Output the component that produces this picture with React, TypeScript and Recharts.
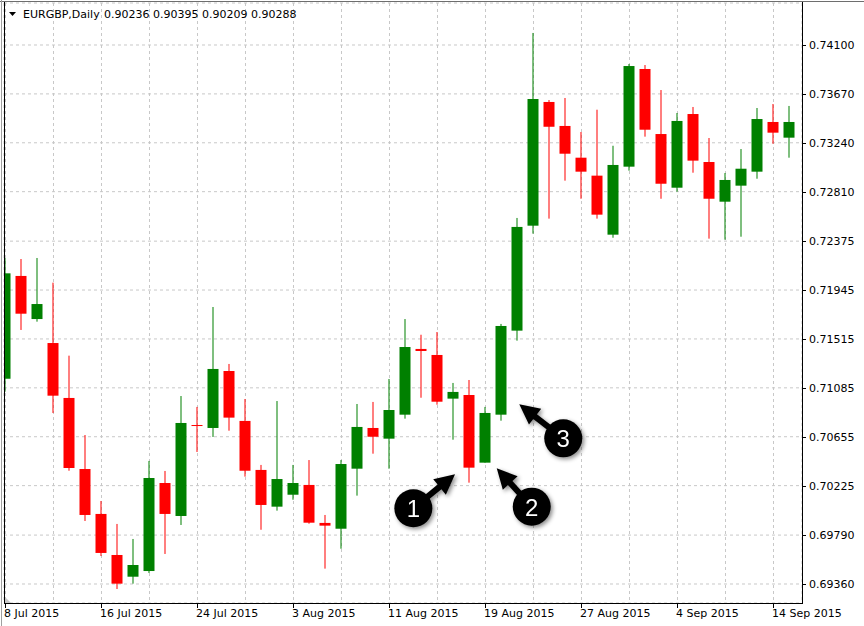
import React from 'react';
import { Bar, CartesianGrid, ComposedChart, ReferenceDot, XAxis, YAxis } from 'recharts';

// EURGBP daily candles, 8 Jul 2015 .. 15 Sep 2015
const dates = [
  '8 Jul 2015', '9 Jul 2015', '10 Jul 2015', '13 Jul 2015', '14 Jul 2015', '15 Jul 2015',
  '16 Jul 2015', '17 Jul 2015', '20 Jul 2015', '21 Jul 2015', '22 Jul 2015', '23 Jul 2015',
  '24 Jul 2015', '27 Jul 2015', '28 Jul 2015', '29 Jul 2015', '30 Jul 2015', '31 Jul 2015',
  '3 Aug 2015', '4 Aug 2015', '5 Aug 2015', '6 Aug 2015', '7 Aug 2015', '10 Aug 2015',
  '11 Aug 2015', '12 Aug 2015', '13 Aug 2015', '14 Aug 2015', '17 Aug 2015', '18 Aug 2015',
  '19 Aug 2015', '20 Aug 2015', '21 Aug 2015', '24 Aug 2015', '25 Aug 2015', '26 Aug 2015',
  '27 Aug 2015', '28 Aug 2015', '31 Aug 2015', '1 Sep 2015', '2 Sep 2015', '3 Sep 2015',
  '4 Sep 2015', '7 Sep 2015', '8 Sep 2015', '9 Sep 2015', '10 Sep 2015', '11 Sep 2015',
  '14 Sep 2015', '15 Sep 2015',
];

const open = [
  0.71165, 0.72069, 0.7169, 0.71479, 0.70996, 0.70371, 0.69976, 0.69615, 0.69424, 0.69474,
  0.70248, 0.69958, 0.70758, 0.70732, 0.71233, 0.70794, 0.70363, 0.7004, 0.70145, 0.70231,
  0.69897, 0.69846, 0.70374, 0.70732, 0.70638, 0.70849, 0.71427, 0.71374, 0.7099, 0.71022,
  0.70427, 0.70849, 0.71588, 0.72511, 0.73599, 0.73388, 0.73109, 0.72951, 0.72432, 0.7303,
  0.73889, 0.73317, 0.72845, 0.73493, 0.73071, 0.72722, 0.72863, 0.72986, 0.73423, 0.73285,
];
const high = [
  0.72227, 0.72218, 0.72227, 0.7201, 0.71368, 0.7067, 0.7009, 0.69888, 0.69756, 0.70442,
  0.70354, 0.71013, 0.70917, 0.71796, 0.71295, 0.70987, 0.70407, 0.70969, 0.70407, 0.7045,
  0.69967, 0.7045, 0.70943, 0.70961, 0.71163, 0.7169, 0.71552, 0.71576, 0.71128, 0.71154,
  0.70917, 0.71647, 0.72579, 0.74206, 0.73616, 0.73634, 0.73335, 0.73531, 0.73214, 0.73933,
  0.73924, 0.73704, 0.73502, 0.73555, 0.73282, 0.72974, 0.73185, 0.73546, 0.73581, 0.73564,
];
const low = [
  0.71051, 0.71594, 0.71667, 0.70864, 0.70356, 0.69914, 0.69606, 0.69316, 0.69363, 0.69457,
  0.69624, 0.69879, 0.70521, 0.70653, 0.70708, 0.70304, 0.69837, 0.70005, 0.70101, 0.6989,
  0.69495, 0.6967, 0.70137, 0.70506, 0.70374, 0.70814, 0.70998, 0.70937, 0.70629, 0.70251,
  0.70427, 0.70796, 0.715, 0.72441, 0.72573, 0.72907, 0.72748, 0.72573, 0.72405, 0.72995,
  0.73294, 0.72748, 0.7281, 0.72977, 0.72397, 0.72388, 0.72414, 0.72924, 0.73232, 0.73109,
];
const close = [
  0.72092, 0.71737, 0.71822, 0.71016, 0.7038, 0.69967, 0.69633, 0.69363, 0.69527, 0.70292,
  0.69976, 0.70776, 0.70754, 0.71251, 0.70823, 0.70356, 0.70055, 0.70283, 0.70248, 0.69899,
  0.69873, 0.70415, 0.70741, 0.70655, 0.7089, 0.71444, 0.71409, 0.70963, 0.71049, 0.70383,
  0.70864, 0.71629, 0.725, 0.73625, 0.73381, 0.73144, 0.72986, 0.72608, 0.73045, 0.73915,
  0.73355, 0.7288, 0.73432, 0.73083, 0.72748, 0.72913, 0.73012, 0.73449, 0.73329, 0.73423,
];

const priceTicks = [
  0.741, 0.7367, 0.7324, 0.7281, 0.72375, 0.71945, 0.71515, 0.71085, 0.70655, 0.70225, 0.6979, 0.6936,
];

// numbered callouts: position in chart units, arrow tip offset in px
const callouts = [
  { label: '1', x: 25.49, y: 0.70026, dx: 41.7, dy: -34 },
  { label: '2', x: 32.89, y: 0.7004, dx: -35, dy: -38.4 },
  { label: '3', x: 34.86, y: 0.70641, dx: -44, dy: -34 },
];

const title = 'EURGBP,Daily';
const quote = '0.90236 0.90395 0.90209 0.90288';

const W = 864;
const H = 626;
const PLOT_RIGHT = 802;
const PLOT_BOTTOM = 603;
const FONT = '"DejaVu Sans", Tahoma, sans-serif';
const UP = '#008000';
const DOWN = '#ff0000';

const data = dates.map((date, i) => ({
  i,
  date,
  open: open[i],
  high: high[i],
  low: low[i],
  close: close[i],
  range: [low[i], high[i]],
}));

const gridIdx = dates.map((_, i) => i).filter((i) => i % 3 === 0);

function Candle(props: any) {
  const { x, y, width, height, payload } = props;
  if (!payload) return null;
  const { open: o, close: c, high: h, low: l } = payload;
  const yHigh = Math.min(y, y + height);
  const yLow = Math.max(y, y + height);
  const k = (yLow - yHigh) / (h - l);
  const yAt = (v: number) => yHigh + (h - v) * k;
  const cx = x + width / 2;
  const color = c >= o ? UP : DOWN;
  const top = yAt(Math.max(o, c));
  const bh = Math.max(1, yAt(Math.min(o, c)) - top);
  return (
    <g>
      <rect x={cx - 0.5} y={yHigh} width={1} height={yLow - yHigh} fill={color} />
      <rect x={cx - 5.5} y={top} width={11} height={bh} fill={color} />
    </g>
  );
}

function XTick(props: any) {
  const { x, payload } = props;
  if (payload.value % 6 !== 0) return <g />;
  return (
    <g>
      <line x1={x} x2={x} y1={PLOT_BOTTOM + 1} y2={PLOT_BOTTOM + 5} stroke="#000" />
      <text x={x - 1.5} y={617} fontSize={11} fontFamily={FONT} fill="#000" textAnchor="start">
        {dates[payload.value]}
      </text>
    </g>
  );
}

function YTick(props: any) {
  const { y, payload } = props;
  const py = Math.round(y) + 0.5;
  return (
    <g>
      <line x1={PLOT_RIGHT + 1} x2={PLOT_RIGHT + 4} y1={py} y2={py} stroke="#000" />
      <text x={PLOT_RIGHT + 7} y={y + 4} fontSize={11} fontFamily={FONT} fill="#000" textAnchor="start">
        {payload.value.toFixed(5)}
      </text>
    </g>
  );
}

function Callout({ cx, cy, label, dx, dy }: any) {
  const len = Math.hypot(dx, dy);
  const ux = dx / len;
  const uy = dy / len;
  const nx = -uy;
  const ny = ux;
  const tx = cx + dx;
  const ty = cy + dy;
  const bx = tx - ux * 20;
  const by = ty - uy * 20;
  const pts = [
    [cx + nx * 3, cy + ny * 3],
    [bx + nx * 3, by + ny * 3],
    [bx + nx * 10, by + ny * 10],
    [tx, ty],
    [bx - nx * 10, by - ny * 10],
    [bx - nx * 3, by - ny * 3],
    [cx - nx * 3, cy - ny * 3],
  ]
    .map((p) => p.join(','))
    .join(' ');
  return (
    <g filter="url(#calloutShadow)">
      <polygon points={pts} fill="#000" />
      <circle cx={cx} cy={cy} r={19} fill="#000" />
      <text
        x={cx}
        y={cy + 9}
        textAnchor="middle"
        fontSize={24}
        fontFamily='"Liberation Sans", Arial, sans-serif'
        fill="#fff"
      >
        {label}
      </text>
    </g>
  );
}

export default function App() {
  return (
    <div style={{ position: 'absolute', left: 0, top: 0, width: W, height: H, background: '#fff' }}>
      <ComposedChart width={W} height={H} data={data} margin={{ top: 3, right: 0, bottom: 0, left: 4 }}>
        <CartesianGrid stroke="#c8c8c8" strokeDasharray="3 3" />
        <XAxis
          dataKey="i"
          type="number"
          domain={[-0.09375, 49.78125]}
          ticks={gridIdx}
          interval={0}
          allowDataOverflow
          height={23}
          axisLine={false}
          tickLine={false}
          tick={<XTick />}
        />
        <YAxis
          orientation="right"
          type="number"
          domain={[0.6919278, 0.7446936]}
          ticks={priceTicks}
          interval={0}
          allowDataOverflow
          width={62}
          axisLine={false}
          tickLine={false}
          tick={<YTick />}
        />
        <Bar dataKey="range" barSize={11} shape={(p: any) => <Candle {...p} />} isAnimationActive={false} />
        {callouts.map((c) => (
          <ReferenceDot
            key={c.label}
            x={c.x}
            y={c.y}
            r={19}
            ifOverflow="visible"
            shape={(p: any) => <Callout cx={p.cx} cy={p.cy} label={c.label} dx={c.dx} dy={c.dy} />}
          />
        ))}
      </ComposedChart>
      <svg
        width={W}
        height={H}
        style={{ position: 'absolute', left: 0, top: 0, pointerEvents: 'none' }}
      >
        <defs>
          <filter id="calloutShadow" x="-50%" y="-50%" width="200%" height="200%">
            <feDropShadow dx={2} dy={2} stdDeviation={2} floodColor="#000" floodOpacity={0.45} />
          </filter>
        </defs>
        <line x1={0} x2={W} y1={1.5} y2={1.5} stroke="#6e6e6e" />
        <line x1={1.5} x2={1.5} y1={0} y2={H} stroke="#a0a0a0" />
        <line x1={4.5} x2={4.5} y1={2} y2={PLOT_BOTTOM + 1} stroke="#000" />
        <line x1={PLOT_RIGHT + 0.5} x2={PLOT_RIGHT + 0.5} y1={2} y2={PLOT_BOTTOM + 1} stroke="#000" />
        <line x1={4} x2={PLOT_RIGHT + 1} y1={PLOT_BOTTOM + 0.5} y2={PLOT_BOTTOM + 0.5} stroke="#000" />
        <polygon points="5,597 5,603 11,603" fill="#c8c8c8" />
        <polygon points="9,12 16,12 12.5,16" fill="#000" />
        <text x={23} y={18} fontSize={11} fontFamily={FONT} fill="#000">
          {title}
        </text>
        <text x={104} y={18} fontSize={11} fontFamily={FONT} fill="#000">
          {quote}
        </text>
      </svg>
    </div>
  );
}
